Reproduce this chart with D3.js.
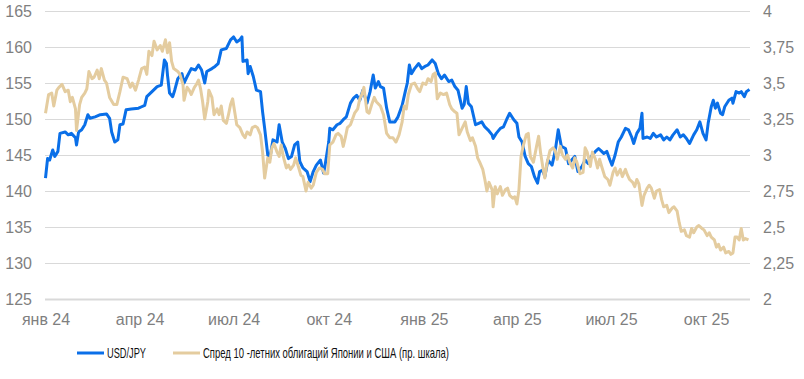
<!DOCTYPE html>
<html>
<head>
<meta charset="utf-8">
<script src="https://cdn.jsdelivr.net/npm/d3@7"></script>
<style>
  body { margin: 0; background: #fff; }
  text { font-family: "Liberation Sans", Arial, sans-serif; }
</style>
</head>
<body>
<div id="chart"></div>
<script>
// ----------------------------
// DATA
// ----------------------------
const usdjpy = [
  ["2024-01-01",141.8],["2024-01-03",144.5],["2024-01-05",144.3],["2024-01-08",145.7],["2024-01-10",144.8],
  ["2024-01-13",145.5],["2024-01-15",148.0],["2024-01-20",148.2],["2024-01-23",147.8],["2024-01-26",148.0],
  ["2024-01-30",147.4],["2024-01-31",146.4],["2024-02-02",148.2],["2024-02-05",148.5],["2024-02-08",149.2],
  ["2024-02-11",150.6],["2024-02-13",150.1],["2024-02-18",150.3],["2024-02-23",150.6],["2024-02-29",150.7],
  ["2024-03-03",150.1],["2024-03-05",148.2],["2024-03-08",146.8],["2024-03-11",147.1],["2024-03-13",149.2],
  ["2024-03-16",149.3],["2024-03-19",151.3],["2024-03-24",151.4],["2024-03-31",151.5],["2024-04-03",151.7],
  ["2024-04-06",151.9],["2024-04-08",153.1],["2024-04-13",153.8],["2024-04-18",154.5],["2024-04-22",154.7],
  ["2024-04-25",158.2],["2024-04-27",157.7],["2024-04-28",156.1],["2024-04-30",153.6],["2024-05-03",153.1],
  ["2024-05-05",154.0],["2024-05-08",155.6],["2024-05-12",156.3],["2024-05-14",155.0],["2024-05-17",155.9],
  ["2024-05-21",157.0],["2024-05-25",156.8],["2024-05-28",157.5],["2024-05-31",156.8],["2024-06-03",155.0],
  ["2024-06-05",156.6],["2024-06-10",157.0],["2024-06-13",157.3],["2024-06-16",157.7],["2024-06-19",159.6],
  ["2024-06-24",159.8],["2024-06-28",161.0],["2024-07-01",161.4],["2024-07-04",160.7],["2024-07-07",161.0],
  ["2024-07-09",161.4],["2024-07-10",158.0],["2024-07-14",158.2],["2024-07-15",156.3],["2024-07-17",157.3],
  ["2024-07-20",155.9],["2024-07-23",154.0],["2024-07-27",153.8],["2024-07-29",151.0],["2024-07-31",148.7],
  ["2024-08-03",145.0],["2024-08-05",144.5],["2024-08-08",147.1],["2024-08-12",146.8],["2024-08-14",149.2],
  ["2024-08-17",146.8],["2024-08-20",145.9],["2024-08-23",144.5],["2024-08-26",144.8],["2024-08-29",146.4],
  ["2024-09-01",146.8],["2024-09-03",144.1],["2024-09-06",143.2],["2024-09-10",142.7],["2024-09-13",141.3],
  ["2024-09-16",142.7],["2024-09-19",143.6],["2024-09-23",144.3],["2024-09-26",142.5],["2024-09-27",143.2],
  ["2024-10-01",146.8],["2024-10-02",148.7],["2024-10-05",148.5],["2024-10-09",149.2],["2024-10-12",149.4],
  ["2024-10-15",149.9],["2024-10-18",150.3],["2024-10-22",152.2],["2024-10-25",152.9],["2024-10-28",153.3],
  ["2024-10-31",152.6],["2024-11-03",154.0],["2024-11-07",152.2],["2024-11-10",153.8],["2024-11-13",156.1],
  ["2024-11-15",154.3],["2024-11-18",155.2],["2024-11-20",154.5],["2024-11-23",154.3],["2024-11-26",151.5],
  ["2024-11-29",149.6],["2024-12-04",149.6],["2024-12-07",150.3],["2024-12-11",151.9],["2024-12-14",153.8],
  ["2024-12-16",155.0],["2024-12-18",157.5],["2024-12-20",156.3],["2024-12-23",157.0],["2024-12-27",157.7],
  ["2024-12-30",157.0],["2025-01-02",157.3],["2025-01-05",157.5],["2025-01-09",158.2],["2025-01-12",157.7],
  ["2025-01-15",156.3],["2025-01-18",155.6],["2025-01-21",156.1],["2025-01-25",155.2],["2025-01-28",155.4],
  ["2025-01-31",154.5],["2025-02-03",154.0],["2025-02-07",151.5],["2025-02-09",152.0],["2025-02-11",154.5],
  ["2025-02-13",152.2],["2025-02-16",151.7],["2025-02-20",149.2],["2025-02-23",149.4],["2025-02-26",149.6],
  ["2025-03-01",148.9],["2025-03-04",148.5],["2025-03-08",147.8],["2025-03-09",147.3],["2025-03-12",148.0],
  ["2025-03-16",148.7],["2025-03-19",148.9],["2025-03-22",149.9],["2025-03-25",150.8],["2025-03-29",149.9],
  ["2025-04-01",149.4],["2025-04-03",147.5],["2025-04-06",146.8],["2025-04-09",144.8],["2025-04-12",143.8],
  ["2025-04-15",143.4],["2025-04-18",142.0],["2025-04-21",141.1],["2025-04-23",142.7],["2025-04-26",142.9],
  ["2025-04-28",142.0],["2025-05-01",144.3],["2025-05-05",143.6],["2025-05-08",145.5],["2025-05-11",148.5],
  ["2025-05-14",146.2],["2025-05-18",145.9],["2025-05-21",143.8],["2025-05-24",144.3],["2025-05-27",144.8],
  ["2025-05-30",142.7],["2025-06-03",143.4],["2025-06-06",144.3],["2025-06-09",143.8],["2025-06-12",144.8],
  ["2025-06-16",145.5],["2025-06-19",145.9],["2025-06-22",145.5],["2025-06-24",145.2],["2025-06-27",145.5],
  ["2025-06-30",144.3],["2025-07-02",143.6],["2025-07-05",145.0],["2025-07-08",146.8],["2025-07-11",147.5],
  ["2025-07-15",148.7],["2025-07-18",148.5],["2025-07-21",147.5],["2025-07-23",146.6],["2025-07-26",148.0],
  ["2025-07-29",148.7],["2025-07-31",150.8],["2025-08-01",147.3],["2025-08-05",147.5],["2025-08-08",147.3],
  ["2025-08-11",148.0],["2025-08-14",147.5],["2025-08-18",147.8],["2025-08-21",147.1],["2025-08-24",147.5],
  ["2025-08-27",147.1],["2025-08-30",147.8],["2025-09-03",148.5],["2025-09-06",147.5],["2025-09-09",147.8],
  ["2025-09-12",147.3],["2025-09-15",146.6],["2025-09-19",147.8],["2025-09-22",148.5],["2025-09-25",149.6],
  ["2025-09-28",148.0],["2025-10-01",147.1],["2025-10-03",149.4],["2025-10-06",151.7],["2025-10-08",152.6],
  ["2025-10-10",151.5],["2025-10-12",152.2],["2025-10-15",150.8],["2025-10-17",150.6],["2025-10-19",151.7],
  ["2025-10-23",152.6],["2025-10-26",152.9],["2025-10-27",152.2],["2025-10-30",153.8],["2025-11-02",153.6],
  ["2025-11-04",153.8],["2025-11-07",153.1],["2025-11-09",153.8],["2025-11-12",154.1]
];

const spread = [
  ["2024-01-01",3.29],["2024-01-04",3.42],["2024-01-07",3.43],["2024-01-09",3.34],["2024-01-12",3.45],
  ["2024-01-14",3.47],["2024-01-17",3.49],["2024-01-20",3.44],["2024-01-23",3.45],["2024-01-25",3.37],
  ["2024-01-27",3.40],["2024-01-30",3.32],["2024-01-31",3.17],["2024-02-03",3.35],["2024-02-05",3.40],
  ["2024-02-08",3.43],["2024-02-10",3.46],["2024-02-12",3.58],["2024-02-15",3.53],["2024-02-17",3.54],
  ["2024-02-20",3.59],["2024-02-22",3.53],["2024-02-24",3.60],["2024-02-27",3.52],["2024-02-29",3.50],
  ["2024-03-03",3.40],["2024-03-07",3.35],["2024-03-10",3.35],["2024-03-13",3.44],["2024-03-16",3.54],
  ["2024-03-20",3.53],["2024-03-23",3.47],["2024-03-25",3.50],["2024-03-28",3.45],["2024-03-31",3.52],
  ["2024-04-03",3.60],["2024-04-06",3.61],["2024-04-08",3.56],["2024-04-10",3.72],["2024-04-13",3.69],
  ["2024-04-15",3.79],["2024-04-18",3.73],["2024-04-21",3.76],["2024-04-23",3.72],["2024-04-26",3.80],
  ["2024-04-28",3.71],["2024-04-30",3.78],["2024-05-02",3.65],["2024-05-04",3.60],["2024-05-08",3.58],
  ["2024-05-10",3.56],["2024-05-13",3.49],["2024-05-14",3.38],["2024-05-17",3.47],["2024-05-19",3.45],
  ["2024-05-21",3.42],["2024-05-24",3.47],["2024-05-26",3.49],["2024-05-28",3.52],["2024-05-30",3.46],
  ["2024-06-01",3.37],["2024-06-03",3.25],["2024-06-06",3.37],["2024-06-07",3.45],["2024-06-10",3.40],
  ["2024-06-12",3.28],["2024-06-15",3.32],["2024-06-17",3.28],["2024-06-19",3.34],["2024-06-21",3.24],
  ["2024-06-24",3.22],["2024-06-26",3.28],["2024-06-28",3.35],["2024-06-30",3.39],["2024-07-02",3.30],
  ["2024-07-04",3.21],["2024-07-07",3.19],["2024-07-10",3.14],["2024-07-12",3.12],["2024-07-14",3.16],
  ["2024-07-17",3.14],["2024-07-19",3.19],["2024-07-22",3.20],["2024-07-24",3.19],["2024-07-27",3.14],
  ["2024-07-29",3.02],["2024-07-31",2.84],["2024-08-03",2.98],["2024-08-05",2.95],["2024-08-07",3.05],
  ["2024-08-09",3.08],["2024-08-12",3.02],["2024-08-14",2.99],["2024-08-16",3.07],["2024-08-18",2.99],
  ["2024-08-21",2.91],["2024-08-23",2.93],["2024-08-25",2.90],["2024-08-28",2.93],["2024-08-30",2.98],
  ["2024-09-02",2.91],["2024-09-04",2.86],["2024-09-06",2.85],["2024-09-09",2.75],["2024-09-11",2.81],
  ["2024-09-14",2.77],["2024-09-16",2.79],["2024-09-19",2.88],["2024-09-22",2.91],["2024-09-25",2.90],
  ["2024-09-27",2.87],["2024-09-30",2.87],["2024-10-02",3.07],["2024-10-05",3.09],["2024-10-08",3.14],
  ["2024-10-10",3.15],["2024-10-13",3.13],["2024-10-15",3.06],["2024-10-17",3.12],["2024-10-19",3.19],
  ["2024-10-22",3.21],["2024-10-24",3.25],["2024-10-26",3.29],["2024-10-29",3.32],["2024-10-31",3.39],
  ["2024-11-02",3.42],["2024-11-04",3.47],["2024-11-07",3.30],["2024-11-09",3.29],["2024-11-12",3.36],
  ["2024-11-14",3.40],["2024-11-16",3.37],["2024-11-20",3.34],["2024-11-23",3.28],["2024-11-26",3.15],
  ["2024-11-29",3.12],["2024-12-02",3.12],["2024-12-05",3.09],["2024-12-08",3.14],["2024-12-11",3.23],
  ["2024-12-13",3.34],["2024-12-15",3.32],["2024-12-17",3.42],["2024-12-20",3.49],["2024-12-23",3.50],
  ["2024-12-26",3.46],["2024-12-28",3.44],["2024-12-31",3.50],["2025-01-03",3.49],["2025-01-05",3.53],
  ["2025-01-08",3.51],["2025-01-10",3.56],["2025-01-12",3.57],["2025-01-14",3.39],["2025-01-17",3.43],
  ["2025-01-20",3.42],["2025-01-23",3.43],["2025-01-26",3.35],["2025-01-28",3.32],["2025-01-31",3.30],
  ["2025-02-02",3.29],["2025-02-04",3.14],["2025-02-08",3.20],["2025-02-10",3.23],["2025-02-12",3.16],
  ["2025-02-15",3.10],["2025-02-17",3.12],["2025-02-20",3.06],["2025-02-22",2.98],["2025-02-24",2.95],
  ["2025-02-27",2.90],["2025-03-01",2.83],["2025-03-03",2.75],["2025-03-05",2.81],["2025-03-08",2.76],
  ["2025-03-09",2.64],["2025-03-11",2.78],["2025-03-13",2.73],["2025-03-16",2.78],["2025-03-18",2.72],
  ["2025-03-21",2.76],["2025-03-23",2.77],["2025-03-25",2.72],["2025-03-28",2.70],["2025-03-30",2.71],
  ["2025-04-01",2.66],["2025-04-03",2.76],["2025-04-05",2.99],["2025-04-07",3.06],["2025-04-10",3.14],
  ["2025-04-12",3.15],["2025-04-14",2.99],["2025-04-17",2.95],["2025-04-20",3.06],["2025-04-22",3.13],
  ["2025-04-24",3.01],["2025-04-26",2.92],["2025-04-28",2.84],["2025-04-30",2.94],["2025-05-03",3.03],
  ["2025-05-06",3.05],["2025-05-08",3.03],["2025-05-10",2.97],["2025-05-13",3.06],["2025-05-15",3.00],
  ["2025-05-18",2.97],["2025-05-20",3.00],["2025-05-22",2.95],["2025-05-25",2.91],["2025-05-27",2.98],
  ["2025-05-29",2.95],["2025-06-01",2.87],["2025-06-04",2.88],["2025-06-06",3.05],["2025-06-08",3.02],
  ["2025-06-11",2.92],["2025-06-13",3.02],["2025-06-16",2.97],["2025-06-18",2.91],["2025-06-20",2.97],
  ["2025-06-22",2.92],["2025-06-25",2.85],["2025-06-28",2.83],["2025-06-30",2.79],["2025-07-03",2.88],
  ["2025-07-05",2.91],["2025-07-07",2.86],["2025-07-10",2.90],["2025-07-12",2.85],["2025-07-15",2.90],
  ["2025-07-17",2.86],["2025-07-19",2.83],["2025-07-22",2.81],["2025-07-24",2.78],["2025-07-26",2.83],
  ["2025-07-28",2.80],["2025-07-31",2.65],["2025-08-02",2.72],["2025-08-05",2.77],["2025-08-07",2.79],
  ["2025-08-09",2.77],["2025-08-12",2.70],["2025-08-14",2.75],["2025-08-17",2.76],["2025-08-19",2.69],
  ["2025-08-21",2.64],["2025-08-24",2.65],["2025-08-26",2.60],["2025-08-29",2.63],["2025-08-31",2.64],
  ["2025-09-03",2.61],["2025-09-05",2.53],["2025-09-07",2.47],["2025-09-10",2.48],["2025-09-12",2.44],
  ["2025-09-15",2.43],["2025-09-17",2.49],["2025-09-19",2.46],["2025-09-22",2.50],["2025-09-24",2.51],
  ["2025-09-27",2.49],["2025-09-29",2.48],["2025-10-02",2.44],["2025-10-04",2.46],["2025-10-06",2.43],
  ["2025-10-09",2.41],["2025-10-11",2.36],["2025-10-13",2.38],["2025-10-15",2.34],["2025-10-18",2.36],
  ["2025-10-20",2.32],["2025-10-23",2.33],["2025-10-25",2.31],["2025-10-27",2.32],["2025-10-29",2.43],
  ["2025-10-31",2.43],["2025-11-02",2.41],["2025-11-04",2.49],["2025-11-06",2.41],["2025-11-08",2.42],
  ["2025-11-11",2.41]
];

const leftTicks = [125, 130, 135, 140, 145, 150, 155, 160, 165];
const rightTicks = [2, 2.25, 2.5, 2.75, 3, 3.25, 3.5, 3.75, 4];
const monthNames = ["янв","фев","мар","апр","май","июн","июл","авг","сен","окт","ноя","дек"];
const seriesNames = ["USD/JPY", "Спред 10 -летних облигаций Японии и США (пр. шкала)"];
const dateRange = ["2024-01-01", "2025-11-12"];

// ----------------------------
// SETUP
// ----------------------------
const width = 804;
const height = 379;
const plot = { left: 45.5, right: 749.5, top: 11, bottom: 299 };
const blue = "#0a6fe8";
const tan = "#e4cc9f";

const parse = d3.timeParse("%Y-%m-%d");
const toPoints = arr => arr.map(([d, v]) => ({ date: parse(d), value: v }));
const usdData = toPoints(usdjpy);
const spreadData = toPoints(spread);

const svg = d3.select("#chart")
  .append("svg")
  .attr("width", width)
  .attr("height", height);

const x = d3.scaleTime()
  .domain(dateRange.map(parse))
  .range([plot.left, plot.right]);

const yLeft = d3.scaleLinear()
  .domain([125, 165])
  .range([plot.bottom, plot.top]);

const yRight = d3.scaleLinear()
  .domain([2, 4])
  .range([plot.bottom, plot.top]);

// ----------------------------
// LEFT AXIS + GRID
// ----------------------------
const leftAxis = svg.append("g")
  .attr("transform", `translate(45,0)`)
  .call(d3.axisLeft(yLeft).tickValues(leftTicks).tickSize(-705).tickPadding(13));

leftAxis.select(".domain").remove();
leftAxis.selectAll(".tick line")
  .attr("stroke", "#d9d9d9")
  .attr("stroke-width", d => d === 125 ? 2 : 1);
leftAxis.selectAll(".tick text")
  .attr("fill", "#7f7f7f")
  .style("font-size", "16px");

// ----------------------------
// RIGHT AXIS
// ----------------------------
const rightAxis = svg.append("g")
  .attr("transform", `translate(750,0)`)
  .call(d3.axisRight(yRight)
    .tickValues(rightTicks)
    .tickSize(0)
    .tickPadding(13)
    .tickFormat(d => String(d).replace(".", ",")));

rightAxis.select(".domain").remove();
rightAxis.selectAll(".tick text")
  .attr("fill", "#7f7f7f")
  .style("font-size", "16px");

// ----------------------------
// X-AXIS
// ----------------------------
const xAxis = svg.append("g")
  .attr("transform", `translate(0,${plot.bottom})`)
  .call(d3.axisBottom(x)
    .ticks(d3.timeMonth.every(3))
    .tickSize(0)
    .tickPadding(14.5)
    .tickFormat(d => `${monthNames[d.getMonth()]} ${d3.timeFormat("%y")(d)}`));

xAxis.select(".domain").remove();
xAxis.selectAll(".tick text")
  .attr("fill", "#7f7f7f")
  .style("font-size", "16px");

// ----------------------------
// LINES
// ----------------------------
const lineLeft = d3.line()
  .x(d => x(d.date))
  .y(d => yLeft(d.value));

const lineRight = d3.line()
  .x(d => x(d.date))
  .y(d => yRight(d.value));

svg.append("path")
  .datum(usdData)
  .attr("fill", "none")
  .attr("stroke", blue)
  .attr("stroke-width", 3)
  .attr("stroke-linejoin", "round")
  .attr("d", lineLeft);

svg.append("path")
  .datum(spreadData)
  .attr("fill", "none")
  .attr("stroke", tan)
  .attr("stroke-width", 3)
  .attr("stroke-linejoin", "round")
  .attr("d", lineRight);

// ----------------------------
// LEGEND
// ----------------------------
const legendItems = [
  { name: seriesNames[0], color: blue, x: 77, textWidth: 39 },
  { name: seriesNames[1], color: tan, x: 173, textWidth: 246 }
];

const legend = svg.append("g")
  .attr("transform", "translate(0,353)");

const items = legend.selectAll(".legend-item")
  .data(legendItems)
  .join("g")
  .attr("class", "legend-item")
  .attr("transform", d => `translate(${d.x},0)`);

items.append("line")
  .attr("x1", 0)
  .attr("x2", 27)
  .attr("stroke", d => d.color)
  .attr("stroke-width", 3);

items.append("text")
  .attr("x", 30)
  .attr("dy", "0.35em")
  .attr("textLength", d => d.textWidth)
  .attr("lengthAdjust", "spacingAndGlyphs")
  .style("font-size", "15px")
  .attr("fill", "#111")
  .text(d => d.name);
</script>
</body>
</html>
